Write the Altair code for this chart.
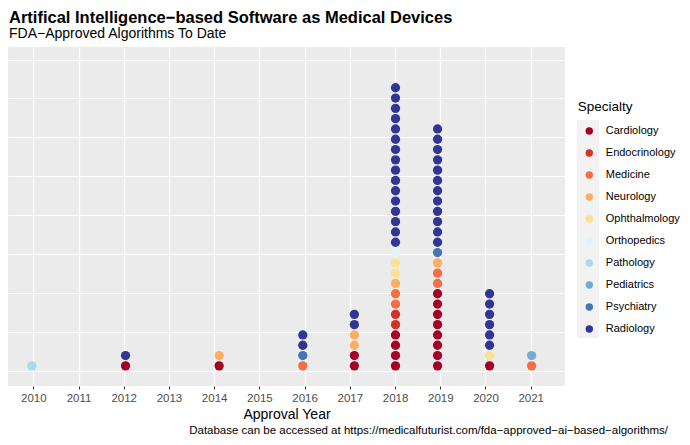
import altair as alt
import pandas as pd

# ---- data ----
approval_year = [2009.97, 2012.04, 2014.11, 2015.96, 2017.10, 2018.01, 2018.94, 2020.09, 2021.02]
specialties = ["Cardiology", "Endocrinology", "Medicine", "Neurology", "Ophthalmology",
               "Orthopedics", "Pathology", "Pediatrics", "Psychiatry", "Radiology"]
cardiology    = [0, 1, 1, 0, 2, 4, 8, 1, 0]
endocrinology = [0, 0, 0, 0, 0, 2, 0, 0, 0]
medicine      = [0, 0, 0, 1, 0, 2, 2, 0, 1]
neurology     = [0, 0, 1, 0, 2, 1, 1, 0, 0]
ophthalmology = [0, 0, 0, 0, 0, 2, 0, 1, 0]
orthopedics   = [0, 0, 0, 0, 0, 1, 0, 0, 0]
pathology     = [1, 0, 0, 0, 0, 0, 0, 0, 0]
pediatrics    = [0, 0, 0, 0, 0, 0, 0, 0, 1]
psychiatry    = [0, 0, 0, 1, 0, 0, 1, 0, 0]
radiology     = [0, 1, 0, 2, 2, 16, 12, 6, 0]
year_ticks = list(range(2010, 2022))
palette = ["#a50026", "#d73027", "#f46d43", "#fdae61", "#fee090",
           "#e0f3f8", "#abd9e9", "#74add1", "#4575b4", "#313695"]

title_text = "Artifical Intelligence\u2212based Software as Medical Devices"
subtitle_text = "FDA\u2212Approved Algorithms To Date"
caption_text = "Database can be accessed at https://medicalfuturist.com/fda\u2212approved\u2212ai\u2212based\u2212algorithms/"

counts = [cardiology, endocrinology, medicine, neurology, ophthalmology,
          orthopedics, pathology, pediatrics, psychiatry, radiology]

rows = []
for si, (spec, cnts) in enumerate(zip(specialties, counts)):
    for yi, n in enumerate(cnts):
        for _ in range(n):
            rows.append({"year": approval_year[yi], "Specialty": spec, "order": si})
df = pd.DataFrame(rows)

W, H = 557, 339
px_per_dot = 10.3
y0_px = 324
y_dom = [-(H - y0_px) / px_per_dot, y0_px / px_per_dot]
grid_step = 39.35 / 10.41
y_grid = [k * grid_step for k in range(9)]
font = "Liberation Sans"

dots = alt.Chart(df).transform_window(
    idx="row_number()", groupby=["year"], sort=[alt.SortField("order", order="ascending")]
).transform_calculate(
    stack="datum.idx - 0.5"
).mark_circle(size=86, opacity=1).encode(
    x=alt.X("year:Q", scale=alt.Scale(domain=[2009.441, 2021.758], nice=False, zero=False),
            axis=alt.Axis(values=year_ticks, format="d", grid=True, gridColor="white",
                          gridWidth=1.3, tickColor="#333333", tickSize=3, tickWidth=1,
                          domain=False, labelColor="#4d4d4d", labelFontSize=11.5,
                          labelPadding=3, labelFont=font, title="Approval Year",
                          titleFontSize=14, titleFontWeight="normal", titleColor="black",
                          titleFont=font, titlePadding=4)),
    y=alt.Y("stack:Q", scale=alt.Scale(domain=y_dom, nice=False, zero=False),
            axis=alt.Axis(values=y_grid, grid=True, gridColor="white", gridWidth=1.2,
                          labels=False, ticks=False, domain=False, title=None)),
    color=alt.Color("Specialty:N", scale=alt.Scale(domain=specialties, range=palette),
                    legend=alt.Legend(orient="none", legendX=569.7, legendY=53,
                                      title="Specialty", titleFontSize=13.5,
                                      titleFontWeight="normal", titleColor="black",
                                      titleFont=font, titlePadding=6.5,
                                      labelFont=font, labelFontSize=11, labelColor="black",
                                      symbolType="circle", symbolSize=55,
                                      symbolStrokeWidth=0, symbolOpacity=1,
                                      symbolOffset=6.1, labelOffset=11,
                                      clipHeight=21.9, rowPadding=0, padding=0)),
)

key_bg = alt.Chart(pd.DataFrame({"k": [0]})).mark_rect(color="#f2f2f2").encode(
    x=alt.value(569), x2=alt.value(591), y=alt.value(73), y2=alt.value(291)
)

caption = alt.Chart(pd.DataFrame({"t": [caption_text]})).mark_text(
    align="right", baseline="middle", fontSize=11.5, font=font, color="black"
).encode(x=alt.value(660), y=alt.value(384), text="t:N")

chart = alt.layer(key_bg, dots, caption).properties(
    width=W, height=H,
    autosize=alt.AutoSizeParams(type="none"),
    padding={"left": 0, "top": 39, "right": 674 - W, "bottom": 429 - 39 - H},
    title=alt.TitleParams(text=title_text, subtitle=subtitle_text, anchor="start",
                          fontSize=16.5, fontWeight="bold", font=font, color="black",
                          subtitleFont=font, subtitleFontSize=14, subtitleColor="black",
                          dx=1, offset=6, subtitlePadding=1, frame="group"),
).configure_view(fill="#ebebeb", strokeWidth=0)

chart.save("out.html", embed_options={"renderer": "svg", "actions": False})
